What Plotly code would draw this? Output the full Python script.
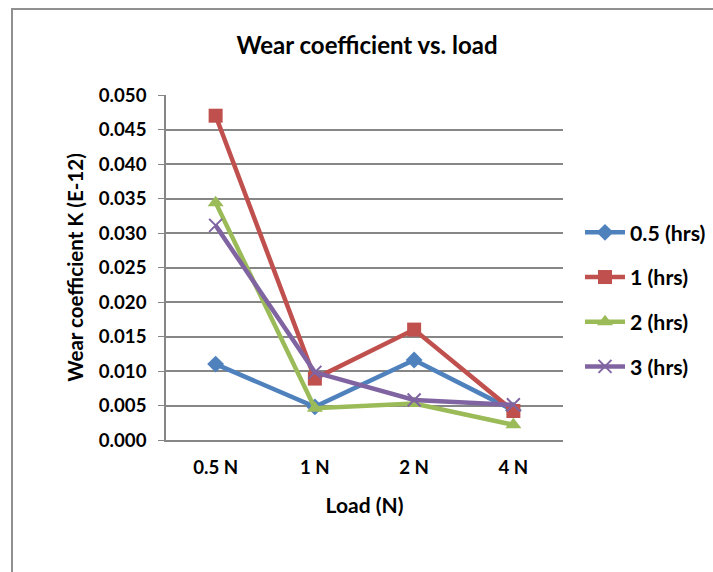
import plotly.graph_objects as go

loads = ["0.5 N", "1 N", "2 N", "4 N"]
s05 = [0.0110, 0.0048, 0.0116, 0.0043]
s1 = [0.0470, 0.0089, 0.0160, 0.0042]
s2 = [0.0344, 0.0046, 0.0053, 0.0022]
s3 = [0.0311, 0.0098, 0.0058, 0.0051]
names = ["0.5 (hrs)", "1 (hrs)", "2 (hrs)", "3 (hrs)"]
colors = ["#4F81BD", "#C0504D", "#9BBB59", "#8064A2"]
y_ticks = [0.0, 0.005, 0.01, 0.015, 0.02, 0.025, 0.03, 0.035, 0.04, 0.045, 0.05]

FONT = "Lato, Carlito, Calibri, sans-serif"

fig = go.Figure()
series = [s05, s1, s2, s3]
markers = [
    dict(symbol="diamond", size=13),
    dict(symbol="square", size=14),
    dict(symbol="triangle-up", size=14),
    dict(symbol="x-thin", size=13),
]
for i, (vals, nm, col, mk) in enumerate(zip(series, names, colors, markers)):
    m = dict(mk)
    m["color"] = col
    if m["symbol"] == "x-thin":
        m["line"] = dict(width=2, color=col)
    fig.add_trace(go.Scatter(
        x=loads, y=vals, name=nm, mode="lines+markers",
        line=dict(color=col, width=4.5), marker=m, legendgroup=str(i),
    ))

W, H = 713, 572
L, R, T, B = 166, 150, 95, 132
pw, ph = W - L - R, H - T - B

def px(x):
    return (x - L) / pw

def py(y):
    return (H - B - y) / ph

def f(size):
    return dict(size=size, family=FONT, weight="bold", color="black")

fig.update_layout(
    width=W, height=H,
    margin=dict(l=L, r=R, t=T, b=B, pad=0, autoexpand=False),
    paper_bgcolor="white", plot_bgcolor="white",
    font=dict(family=FONT, color="black", weight="bold"),
    title=dict(text="Wear coefficient vs. load", x=px(367), xref="paper",
               xanchor="center", y=1 - 46 / H, yanchor="middle",
               font=f(24)),
    xaxis=dict(
        type="category", range=[-0.5, 3.5], showgrid=False,
        showline=True, linecolor="#868686", linewidth=1.5,
        ticks="", tickfont=f(18.67), ticklabelstandoff=10,
        title=dict(text="Load (N)", font=f(21), standoff=21),
        fixedrange=True,
    ),
    yaxis=dict(
        range=[0, 0.05], tickvals=y_ticks, tickformat=".3f",
        showgrid=True, gridcolor="#868686", gridwidth=1.5,
        showline=True, linecolor="#868686", linewidth=1.5,
        ticks="outside", ticklen=6, tickcolor="#868686",
        tickfont=f(18.67), ticklabelstandoff=8,
        title=dict(text="Wear coefficient K (E-12)", font=f(20.5), standoff=10),
        zeroline=False, fixedrange=True,
    ),
    legend=dict(
        x=px(580), y=py(212), xanchor="left", yanchor="top",
        font=f(21.3), tracegroupgap=14,
        bgcolor="rgba(0,0,0,0)", itemwidth=40,
    ),
    shapes=[dict(type="rect", xref="paper", yref="paper",
                 x0=px(12), x1=px(760), y0=py(620), y1=py(9),
                 line=dict(color="#909090", width=2), fillcolor="rgba(0,0,0,0)",
                 layer="below")],
)

fig.write_html("out.html")
